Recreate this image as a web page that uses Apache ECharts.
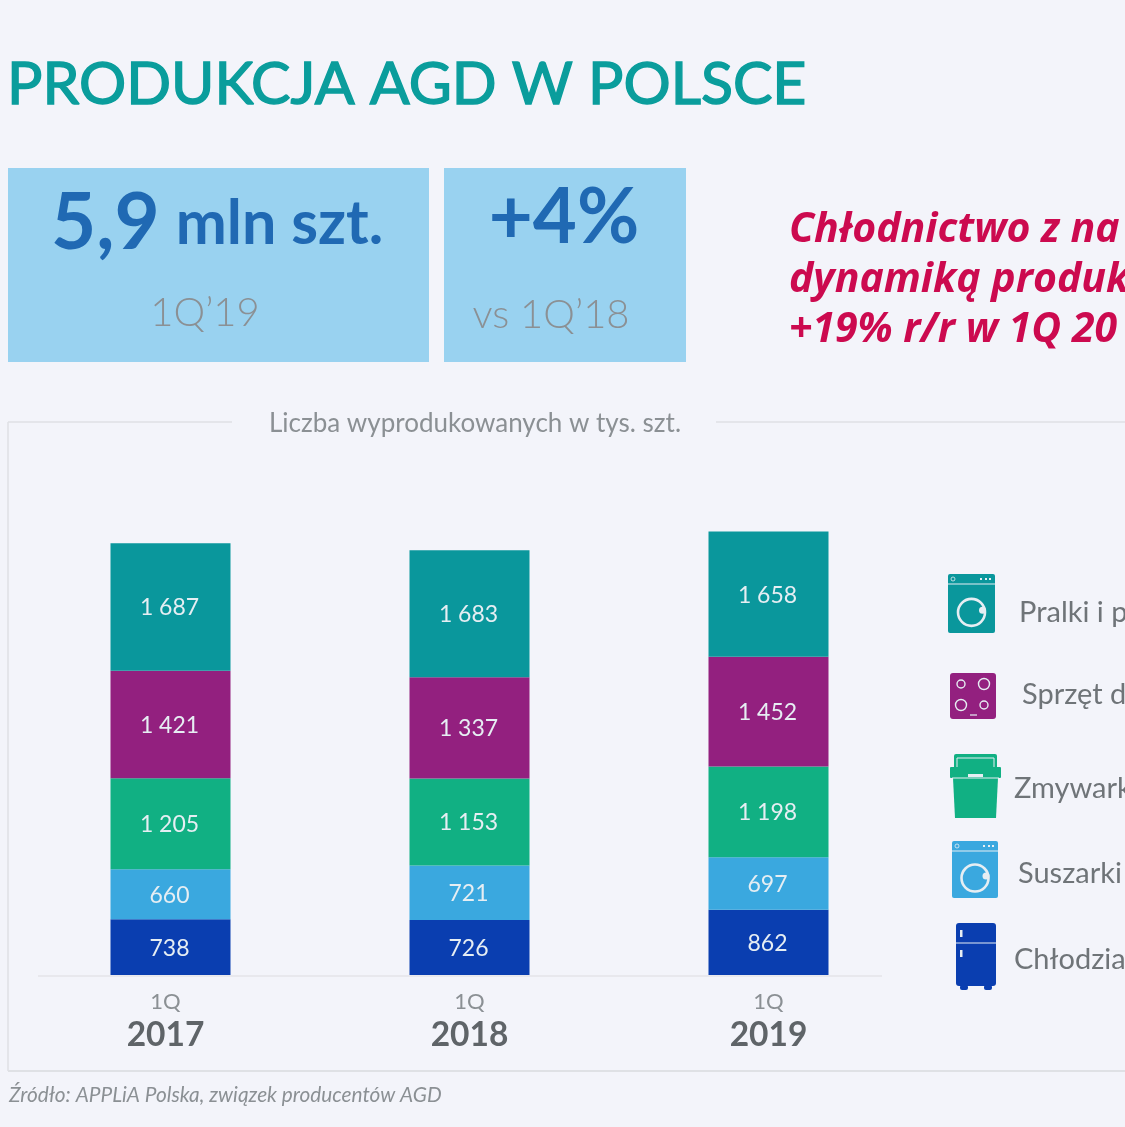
<!DOCTYPE html>
<html>
<head>
<meta charset="utf-8">
<title>Produkcja AGD w Polsce</title>
<script src="https://cdn.jsdelivr.net/npm/echarts@6/dist/echarts.min.js"></script>
<style>
html, body { margin: 0; padding: 0; background: #f3f4fa; overflow: hidden; }
#chart { width: 1125px; height: 1127px; }
</style>
</head>
<body>
<div id="chart"></div>
<script>
// dane z wykresu, tys. szt.
var years = ['2017', '2018', '2019'];
var chlodziarki = [738, 726, 862];
var suszarki = [660, 721, 697];
var zmywarki = [1205, 1153, 1198];
var gotowanie = [1421, 1337, 1452];
var pralki = [1687, 1683, 1658];

var seriesNames = ['Chłodzia', 'Suszarki', 'Zmywark', 'Sprzęt d', 'Pralki i p'];
var seriesColors = ['#0a3eb0', '#3aa8df', '#11b083', '#93207f', '#0a979c'];
var seriesValues = [chlodziarki, suszarki, zmywarki, gotowanie, pralki];

var FONT = 'Lato';
var GREY = '#8b9094';
var WHITE = '#e6eef3';
var chart = echarts.init(document.getElementById('chart'));

function thousands(v) {
  return String(v).replace(/\B(?=(\d{3})+$)/g, ' ');
}

function label(x, y, text, size, color, extra) {
  var style = { x: x, y: y, text: text, fontFamily: FONT, fontSize: size, fill: color, verticalAlign: 'middle' };
  for (var k in extra) style[k] = extra[k];
  return { type: 'text', silent: true, style: style };
}

function box(x, y, w, h, color, r) {
  return { type: 'rect', silent: true, shape: { x: x, y: y, width: w, height: h, r: r || 0 }, style: { fill: color } };
}

function ring(cx, cy, r, color, lw) {
  return { type: 'circle', silent: true, shape: { cx: cx, cy: cy, r: r }, style: { fill: 'none', stroke: color, lineWidth: lw } };
}

function line(x1, y1, x2, y2, color, lw) {
  return { type: 'line', silent: true, shape: { x1: x1, y1: y1, x2: x2, y2: y2 }, style: { stroke: color, lineWidth: lw } };
}

// ikona pralki / suszarki
function washer(x, y, w, h, color) {
  var cx = x + w / 2, cy = y + h * 0.65;
  return [
    box(x, y, w, h, color, 2),
    line(x, y + 10, x + w, y + 10, WHITE, 1.2),
    ring(x + 5, y + 5, 2, WHITE, 0.8),
    box(x + w - 15, y + 4, 2, 2, WHITE),
    box(x + w - 10, y + 4, 2, 2, WHITE),
    box(x + w - 6, y + 4, 2, 2, WHITE),
    ring(cx, cy, 13.5, WHITE, 2.6),
    { type: 'circle', silent: true, shape: { cx: cx + 11, cy: cy - 2, r: 3.5 }, style: { fill: WHITE } }
  ];
}

var frame = '#dfe1e5';
var RED = { fontFamily: 'Open Sans', fontWeight: 'bold', fontStyle: 'italic' };
var graphics = [
  line(232, 422, 8, 422, frame, 1.5),
  line(8, 422, 8, 1071, frame, 1.5),
  line(8, 1071, 1125, 1071, frame, 2),
  line(716, 422, 1125, 422, frame, 1.5),
  line(38, 976, 882, 976, '#e4e5e8', 1.5),

  label(7, 85, 'PRODUKCJA AGD W POLSCE', 59, '#0a9d9c', { stroke: '#0a9d9c', lineWidth: 1.4 }),

  box(8, 168, 421, 194, '#99d2f0'),
  box(444, 168, 242, 194, '#99d2f0'),
  {
    type: 'text', silent: true,
    style: {
      x: 51, y: 224, verticalAlign: 'middle',
      text: '{a|5,9}{b|mln szt.}',
      rich: {
        a: { fontFamily: FONT, fontSize: 78, fontWeight: 'bold', fill: '#2069b3' },
        b: { fontFamily: FONT, fontSize: 61, fontWeight: 'bold', fill: '#2069b3', padding: [0, 0, 0, 16] }
      }
    }
  },
  label(564, 218, '+4%', 76, '#2069b3', { align: 'center', fontWeight: 'bold' }),
  label(205, 313, '1Q’19', 40, GREY, { align: 'center', fontWeight: 300 }),
  label(551, 315, 'vs 1Q’18', 40, GREY, { align: 'center', fontWeight: 300 }),

  label(789, 230, 'Chłodnictwo z na', 41, '#cc0a4f', RED),
  label(789, 280, 'dynamiką produk', 41, '#cc0a4f', RED),
  label(789, 330, '+19% r/r w 1Q 20', 41, '#cc0a4f', RED),

  label(475, 424, 'Liczba wyprodukowanych w tys. szt.', 26, GREY, { align: 'center' }),
  label(9, 1095, 'Źródło: APPLiA Polska, związek producentów AGD', 20.8, GREY, { fontStyle: 'italic' }),

  label(1019, 613, seriesNames[4], 29, '#6f7478'),
  label(1022, 695, seriesNames[3], 29, '#6f7478'),
  label(1014, 789, seriesNames[2], 29, '#6f7478'),
  label(1018, 874, seriesNames[1], 29, '#6f7478'),
  label(1014, 960, seriesNames[0], 29, '#6f7478')
];

// ikony legendy
graphics = graphics.concat(washer(948, 574, 47, 59, seriesColors[4]));
graphics = graphics.concat([
  box(950, 673, 46, 46, seriesColors[3], 3),
  ring(961, 684, 4, WHITE, 1.4),
  ring(984, 684, 5.5, WHITE, 1.4),
  ring(961, 705, 5.5, WHITE, 1.4),
  ring(984, 705, 4, WHITE, 1.4),
  line(970, 715, 977, 715, WHITE, 1.2)
]);
graphics = graphics.concat([
  box(954, 754, 43, 16, seriesColors[2], 2),
  { type: 'rect', silent: true, shape: { x: 957, y: 758, width: 37, height: 12 }, style: { fill: 'none', stroke: WHITE, lineWidth: 1 } },
  { type: 'polygon', silent: true, shape: { points: [[953, 778], [998, 778], [996, 818], [955, 818]] }, style: { fill: seriesColors[2] } },
  box(950, 767, 51, 11, seriesColors[2], 1),
  line(952, 778, 999, 778, WHITE, 1),
  box(968, 774, 15, 3, WHITE)
]);
graphics = graphics.concat(washer(952, 841, 46, 57, seriesColors[1]));
graphics = graphics.concat([
  box(956, 923, 40, 63, seriesColors[0], 3),
  box(960, 985, 8, 5, seriesColors[0], 2),
  box(984, 985, 8, 5, seriesColors[0], 2),
  line(956, 943, 996, 943, WHITE, 1.2),
  box(960, 930, 2.5, 7, WHITE),
  box(960, 950, 2.5, 7, WHITE)
]);

var series = seriesValues.map(function (values, i) {
  return {
    name: seriesNames[i],
    type: 'bar',
    stack: 'agd',
    barWidth: 120,
    itemStyle: { color: seriesColors[i] },
    label: {
      show: true,
      position: 'inside',
      offset: [-1, 1],
      color: WHITE,
      fontFamily: FONT,
      fontSize: 23,
      formatter: function (p) { return thousands(p.value); }
    },
    data: values
  };
});

var option = {
  backgroundColor: '#f3f4fa',
  animation: false,
  grid: { left: 21, width: 897, top: 521.4, height: 453.6 },
  xAxis: {
    type: 'category',
    data: years,
    axisLine: { show: false },
    axisTick: { show: false },
    axisLabel: {
      margin: 13,
      formatter: function (v) {
        // pierwszy rok stoi w oryginale lekko w lewo
        if (v === years[0]) return '{q0|1Q}\n{y0|' + v + '}';
        return '{q|1Q}\n{y|' + v + '}';
      },
      rich: {
        q: { fontFamily: FONT, fontSize: 22, color: GREY, lineHeight: 28 },
        y: { fontFamily: FONT, fontSize: 33.5, fontWeight: 'bold', color: '#5f6468', lineHeight: 38 },
        q0: { fontFamily: FONT, fontSize: 22, color: GREY, lineHeight: 28, padding: [0, 10, 0, 0] },
        y0: { fontFamily: FONT, fontSize: 33.5, fontWeight: 'bold', color: '#5f6468', lineHeight: 38, padding: [0, 10, 0, 0] }
      }
    }
  },
  yAxis: { type: 'value', min: 0, max: 6000, show: false },
  series: series,
  graphic: { elements: graphics }
};

chart.setOption(option);
</script>
</body>
</html>
